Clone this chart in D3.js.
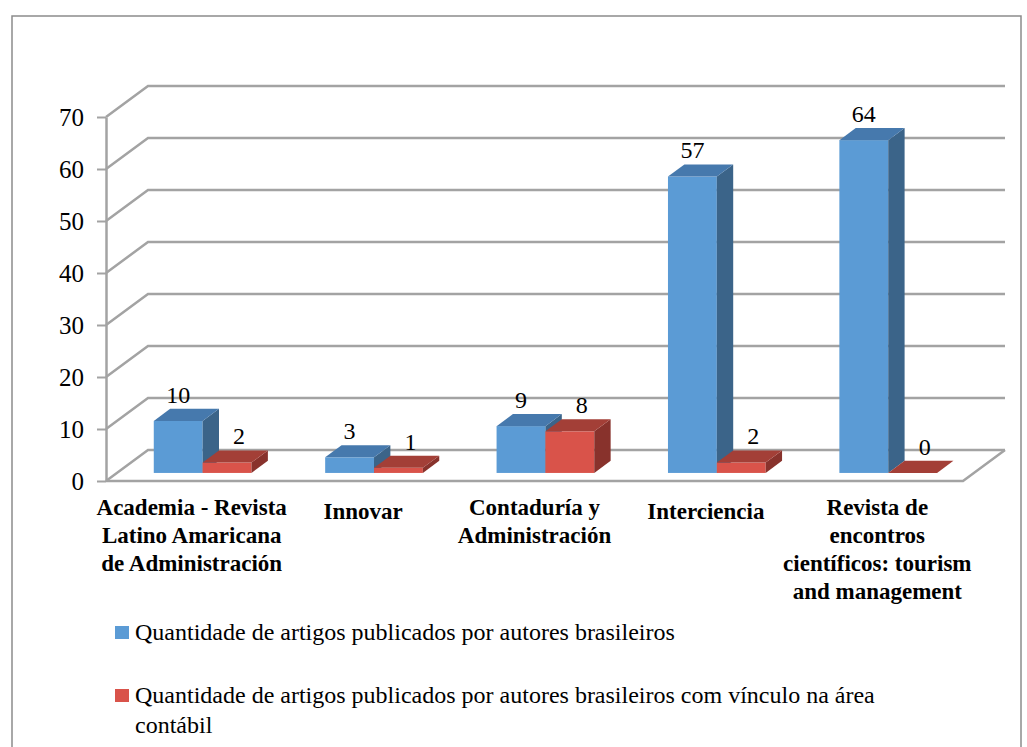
<!DOCTYPE html>
<html>
<head>
<meta charset="utf-8">
<script src="https://cdn.jsdelivr.net/npm/d3@7"></script>
</head>
<body style="margin:0">
<script>
// data
let categories = [
    ["Academia - Revista", "Latino Amaricana", "de Administración"],
    ["Innovar"],
    ["Contaduría y", "Administración"],
    ["Interciencia"],
    ["Revista de", "encontros", "científicos: tourism", "and management"]
];
let brasileiros = [10, 3, 9, 57, 64];
let contabil = [2, 1, 8, 2, 0];
let seriesNames = [
    ["Quantidade de artigos publicados por autores brasileiros"],
    ["Quantidade de artigos publicados por autores brasileiros com vínculo na área", "contábil"]
];
let yTicks = [0, 10, 20, 30, 40, 50, 60, 70];

// layout
let width = 1027, height = 747;
let serifFont = "'Liberation Serif', serif";
let plot = { left: 106, right: 963, top: 117, bottom: 481 };
let depth = { dx: 42, dy: -31 };   // floor depth vector
let barFront = 0.26, barBack = 0.65; // bar position inside the depth

let colors = [
    { front: "#5b9bd5", top: "#4679ad", side: "#3b6489" },
    { front: "#d9534a", top: "#a33f37", side: "#88322c" }
];

let svg = d3.select('body').append('svg')
    .attr('width', width).attr('height', height)
    .style('display', 'block')
    .style('font-family', serifFont);

// outer frame
svg.append('path')
    .attr('d', 'M 12 ' + (height + 5) + ' L 12 16 L 1021 16 L 1021 ' + (height + 5))
    .attr('fill', 'none').attr('stroke', '#8c8c8c').attr('stroke-width', 1.5);

let x0 = d3.scaleBand()
    .domain(d3.range(categories.length))
    .range([plot.left, plot.right])
    .paddingInner(0.43)
    .paddingOuter(0.215);

let x1 = d3.scaleBand()
    .domain([0, 1])
    .range([0, x0.bandwidth()]);

let y = d3.scaleLinear().domain([0, 70]).range([plot.bottom, plot.top]);

// back wall + side wall gridlines
let grid = svg.append('g').attr('fill', 'none')
    .attr('stroke', '#a3a3a3').attr('stroke-width', 2.5);

grid.selectAll('.gridline')
    .data(yTicks).enter().append('path')
    .attr('class', 'gridline')
    .attr('d', d => 'M ' + plot.left + ' ' + y(d)
        + ' L ' + (plot.left + depth.dx) + ' ' + (y(d) + depth.dy)
        + ' L ' + (plot.right + depth.dx) + ' ' + (y(d) + depth.dy));

// floor front and right edge
grid.append('path')
    .attr('d', 'M ' + plot.left + ' ' + y(0) + ' L ' + plot.right + ' ' + y(0)
        + ' l ' + depth.dx + ' ' + depth.dy);

// y axis
let yAxis = d3.axisLeft(y).tickValues(yTicks).tickSize(9).tickPadding(13).tickSizeOuter(0);
let ax = svg.append('g')
    .attr('transform', 'translate(' + plot.left + ',0)')
    .call(yAxis);
ax.attr('font-family', null).attr('font-size', null);
ax.select('.domain').attr('stroke', '#a3a3a3').attr('stroke-width', 2.5);
ax.selectAll('.tick line').attr('stroke', '#a3a3a3').attr('stroke-width', 2);
ax.selectAll('.tick text').attr('fill', '#000')
    .style('font-family', serifFont).attr('font-size', 25);

// bars, drawn left to right so later faces overlap earlier ones
let bars = [];
categories.forEach((c, i) => {
    [brasileiros[i], contabil[i]].forEach((v, s) => bars.push({ cat: i, s: s, v: v }));
});

let ox = depth.dx * barFront, oy = depth.dy * barFront;
let bdx = depth.dx * (barBack - barFront), bdy = depth.dy * (barBack - barFront);
let bw = x1.bandwidth();

let barG = svg.selectAll('.bar')
    .data(bars).enter().append('g')
    .attr('class', 'bar');

barG.each(function(d) {
    let g = d3.select(this);
    let xl = x0(d.cat) + x1(d.s) + ox, xr = xl + bw;
    let yt = y(d.v) + oy, yb = y(0) + oy;
    let col = colors[d.s];
    if (d.v > 0) {
        g.append('rect')
            .attr('x', xl).attr('y', yt)
            .attr('width', bw).attr('height', yb - yt)
            .attr('fill', col.front);
        g.append('path')
            .attr('d', 'M ' + xr + ' ' + yt + ' l ' + bdx + ' ' + bdy
                + ' L ' + (xr + bdx) + ' ' + (yb + bdy) + ' L ' + xr + ' ' + yb + ' Z')
            .attr('fill', col.side);
    }
    g.append('path')
        .attr('d', 'M ' + xl + ' ' + yt + ' L ' + xr + ' ' + yt
            + ' l ' + bdx + ' ' + bdy + ' L ' + (xl + bdx) + ' ' + (yt + bdy) + ' Z')
        .attr('fill', col.top);
    g.append('text')
        .attr('x', xl + bw / 2 + (d.s === 1 ? 12 : 0))
        .attr('y', yt + bdy - 6)
        .attr('text-anchor', 'middle')
        .style('font-family', serifFont)
        .attr('font-size', 24)
        .text(d.v);
});

// category labels
let catLabels = svg.selectAll('.cat-label')
    .data(categories).enter().append('text')
    .attr('class', 'cat-label')
    .attr('text-anchor', 'middle')
    .style('font-family', serifFont)
    .attr('font-weight', 'bold')
    .attr('font-size', 23)
    .attr('transform', (d, i) => 'translate(' + (x0(i) + x0.bandwidth() / 2) + ',' + (d.length === 1 ? 519 : 515) + ')');

catLabels.selectAll('tspan')
    .data(d => d).enter().append('tspan')
    .attr('x', 0)
    .attr('dy', (d, i) => i === 0 ? 0 : 28)
    .text(d => d);

// legend
let legend = svg.selectAll('.legend')
    .data(seriesNames).enter().append('g')
    .attr('class', 'legend')
    .attr('transform', (d, i) => 'translate(115,' + (640 + i * 63) + ')');

legend.append('rect')
    .attr('x', 0).attr('y', -14)
    .attr('width', 14).attr('height', 13)
    .attr('fill', (d, i) => colors[i].front);

legend.append('text')
    .style('font-family', serifFont)
    .attr('font-size', 24)
    .selectAll('tspan')
    .data(d => d).enter().append('tspan')
    .attr('x', 20)
    .attr('dy', (d, i) => i === 0 ? 0 : 30)
    .text(d => d);
</script>
</body>
</html>
